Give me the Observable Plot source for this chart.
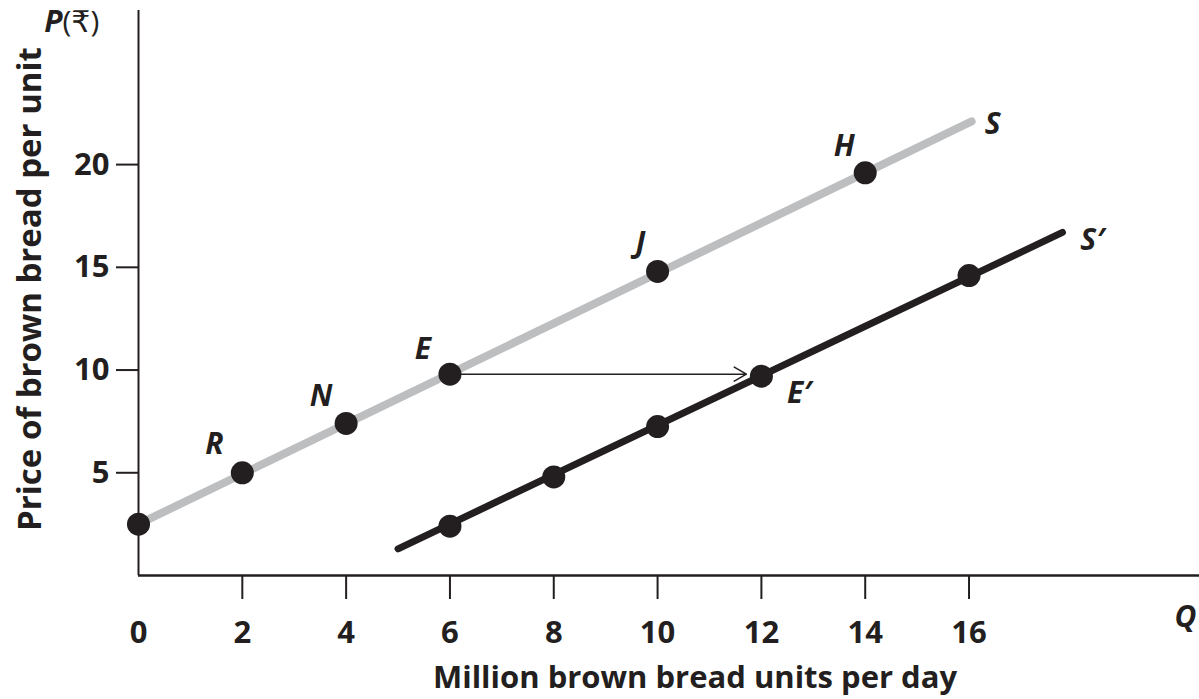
<!DOCTYPE html>
<html><head><meta charset="utf-8">
<script src="https://cdn.jsdelivr.net/npm/d3@7"></script>
<script src="https://cdn.jsdelivr.net/npm/@observablehq/plot@0.6"></script>
<style>body{margin:0;background:#fff}</style>
</head><body><div id="chart"></div>
<script>
// Supply curve S (grey) points
const sLabels = ["", "R", "N", "E", "J", "H"];
const sQ = [0, 2, 4, 6, 10, 14];
const sP = [2.5, 5, 7.4, 9.8, 14.8, 19.6];
// Supply curve S′ (black) points
const s2Labels = ["", "", "", "E′", ""];
const s2Q = [6, 8, 10, 12, 16];
const s2P = [2.4, 4.8, 7.25, 9.7, 14.6];
// Curve line ends
const sLineQ = [0, 16.05];
const sLineP = [2.5, 22.1];
const s2LineQ = [5, 17.8];
const s2LineP = [1.3, 16.7];
const curveNames = ["S", "S′"];
// Ticks
const xTickLabels = [0, 2, 4, 6, 8, 10, 12, 14, 16];
const xTickMarks = [2, 4, 6, 8, 10, 12, 14, 16];
const yTicks = [5, 10, 15, 20];

const ink = "#231f20";
const font = "'Open Sans', 'DejaVu Sans', sans-serif";

const sPts = sQ.map((q, i) => ({q, p: sP[i], label: sLabels[i]}));
const s2Pts = s2Q.map((q, i) => ({q, p: s2P[i], label: s2Labels[i]}));
const allPts = sPts.concat(s2Pts);
const sLine = sLineQ.map((q, i) => ({q, p: sLineP[i]}));
const s2Line = s2LineQ.map((q, i) => ({q, p: s2LineP[i]}));
const E = sPts.find(d => d.label === "E");
const E2 = s2Pts.find(d => d.label === "E′");
const arrowData = [{x1: E.q, x2: E2.q, y: E.p}];

// label offsets (pixels) — styling only
const offsets = {R: [-28, -28], N: [-25, -27], E: [-27, -25], J: [-17, -28], H: [-21, -26], "E′": [38, 17]};
const lab = {fontStyle: "italic", fontWeight: 700, fontSize: 30, fill: ink, lineAnchor: "middle", textAnchor: "middle"};

const labelMarks = Object.keys(offsets).map(k =>
  Plot.text(allPts.filter(d => d.label === k), {
    x: "q", y: "p", text: "label", dx: offsets[k][0], dy: offsets[k][1], ...lab
  })
);

const chart = Plot.plot({
  width: 1199, height: 699,
  marginLeft: 138, marginRight: 0, marginTop: 10, marginBottom: 124,
  x: {domain: [0, 20.44]},
  y: {domain: [0, 27.5]},
  style: {fontFamily: font, fontSize: "31px", fontWeight: 700, color: ink, background: "#fff", overflow: "visible"},
  marks: [
    Plot.axisY({ticks: yTicks, tickSize: 22, tickPadding: 7, label: null, stroke: ink, strokeWidth: 2, fill: ink, fontSize: 31}),
    Plot.axisX({ticks: xTickMarks, tickSize: 24, tickFormat: () => "", label: null, stroke: ink, strokeWidth: 2}),
    Plot.axisX({ticks: xTickLabels, tickSize: 0, tickPadding: 45, label: null, fill: ink, fontSize: 31}),
    Plot.ruleX([0], {stroke: ink, strokeWidth: 2}),
    Plot.ruleY([0], {stroke: ink, strokeWidth: 2.5}),
    Plot.line(sLine, {x: "q", y: "p", stroke: "#bcbec0", strokeWidth: 8}),
    Plot.line(s2Line, {x: "q", y: "p", stroke: ink, strokeWidth: 7}),
    Plot.arrow(arrowData, {x1: "x1", x2: "x2", y1: "y", y2: "y", stroke: ink, strokeWidth: 1.5, headLength: 14, insetEnd: 15}),
    Plot.dot(allPts, {x: "q", y: "p", r: 11.5, fill: ink}),
    ...labelMarks,
    Plot.text([curveNames[0]], {x: sLineQ[1], y: sLineP[1], text: d => d, dx: 21, dy: 3, ...lab}),
    Plot.text([curveNames[1]], {x: s2LineQ[1], y: s2LineP[1], text: d => d, dx: 30, dy: 8, ...lab}),
    Plot.text(["P"], {frameAnchor: "top-left", text: d => d, dx: -76, dy: 12, ...lab, textAnchor: "end"}),
    Plot.text(["(₹)"], {frameAnchor: "top-left", text: d => d, dx: -76, dy: 12, ...lab, fontStyle: "normal", fontWeight: 400, textAnchor: "start"}),
    Plot.text(["Q"], {frameAnchor: "bottom-right", text: d => d, dx: -14, dy: 42, ...lab}),
    Plot.text(["Million brown bread units per day"], {frameAnchor: "bottom", text: d => d, dx: 26, dy: 103, ...lab, fontStyle: "normal", fontSize: 31}),
    Plot.text(["Price of brown bread per unit"], {frameAnchor: "left", text: d => d, dx: -108, dy: -4, rotate: -90, ...lab, fontStyle: "normal", fontSize: 33})
  ]
});
document.getElementById("chart").appendChild(chart);
</script>
</body></html>
